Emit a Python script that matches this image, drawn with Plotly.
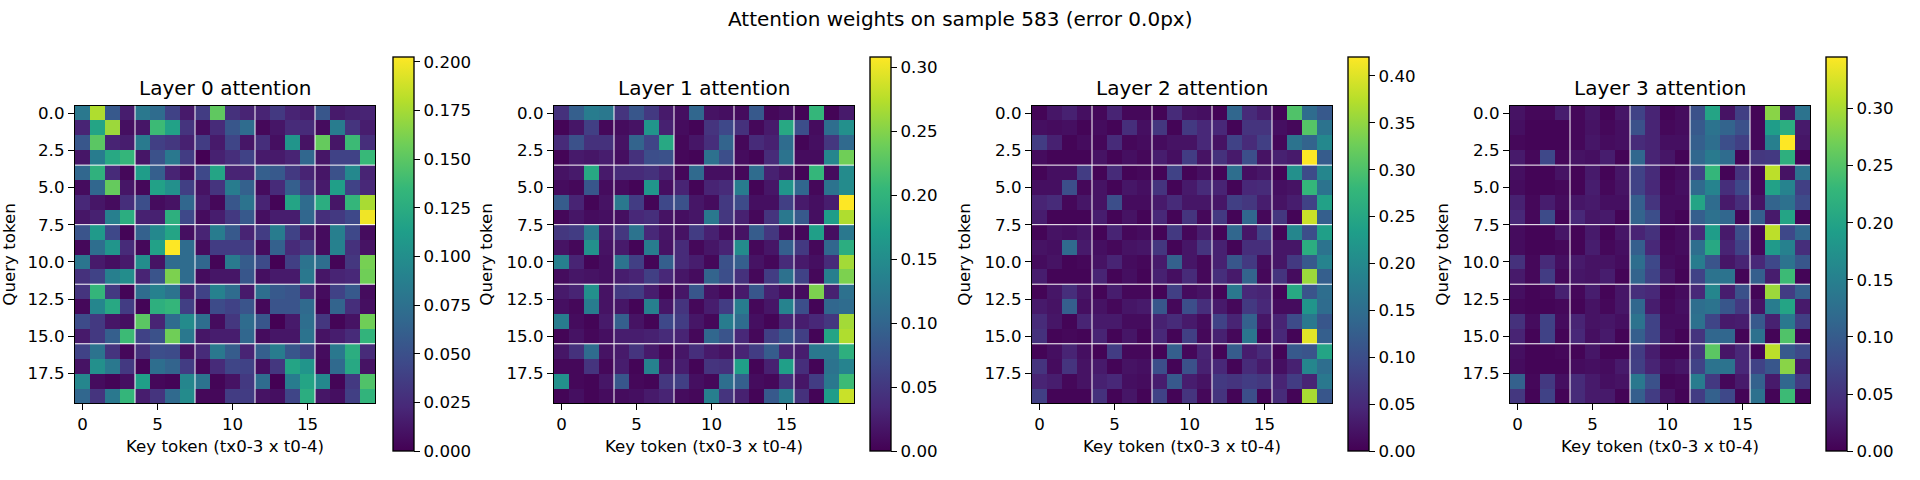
import plotly.graph_objects as go

W, H = 1920, 480

# Attention weights per layer, in hundredths of each layer's peak weight.
# Rows are query tokens, columns are key tokens.
LAYER_0 = [
    [40,88,28,8,40,35,20,7,18,75,14,10,10,17,10,8,27,7,9,10],
    [10,58,85,4,6,68,57,15,3,12,27,35,2,6,12,12,3,42,15,8],
    [27,74,10,8,41,19,16,9,18,7,21,6,13,4,52,5,76,6,68,13],
    [6,42,60,66,6,25,40,18,0,9,13,20,7,7,10,33,6,20,20,67],
    [33,64,12,2,55,30,10,4,22,58,10,10,30,28,17,10,6,25,47,10],
    [3,33,76,6,2,57,50,19,5,15,42,31,3,12,30,17,7,56,20,11],
    [11,6,3,13,24,3,5,33,8,2,27,38,10,1,58,35,62,6,66,87],
    [6,9,43,62,9,9,63,22,3,8,17,28,4,8,8,33,13,17,22,98],
    [26,54,22,1,31,47,58,4,10,42,28,10,18,42,20,7,3,43,22,3],
    [2,36,52,12,2,57,100,35,3,18,18,18,3,31,12,17,3,44,14,5],
    [39,7,4,7,49,5,35,35,33,1,41,29,23,0,19,38,36,1,16,79],
    [14,20,43,49,10,26,80,35,3,6,6,27,4,7,7,40,6,10,11,78],
    [15,66,17,1,35,44,38,8,20,44,35,7,36,28,26,12,3,20,28,3],
    [2,46,60,18,1,63,66,19,1,23,20,26,2,26,26,34,1,32,13,4],
    [23,17,6,4,74,10,35,48,36,3,16,35,27,0,7,36,16,1,5,78],
    [7,17,30,68,20,25,78,40,6,8,8,33,3,6,6,38,5,8,12,65],
    [20,38,15,2,14,24,23,5,12,40,29,10,30,42,27,19,3,40,62,12],
    [5,50,40,17,1,36,32,18,2,12,21,20,4,16,58,52,2,34,60,5],
    [46,3,1,4,56,2,1,46,38,1,5,17,35,0,42,58,47,1,17,72],
    [33,15,40,66,8,15,34,48,2,2,18,18,5,4,21,62,6,4,19,65],
]
LAYER_1 = [
    [14,30,42,40,15,27,17,7,4,33,5,4,3,28,2,4,1,66,1,7],
    [1,6,19,2,3,5,52,9,3,1,15,22,14,2,7,60,24,3,36,50],
    [12,25,14,14,5,32,21,60,2,6,13,32,2,12,9,35,1,4,16,34],
    [1,7,6,8,4,14,24,25,2,1,37,24,3,1,12,38,3,3,46,78],
    [5,7,60,7,12,12,14,9,2,34,4,4,2,35,9,5,1,66,3,48],
    [3,2,27,3,3,1,52,4,10,1,10,12,42,1,6,52,33,2,38,48],
    [29,10,1,5,40,18,1,22,25,6,3,17,23,4,4,19,7,4,8,100],
    [2,6,3,4,4,11,13,5,4,6,40,16,9,2,15,40,28,4,55,88],
    [16,18,40,7,16,38,11,6,5,18,9,3,5,29,16,3,2,56,4,40],
    [5,2,50,5,7,1,42,5,12,2,6,10,48,2,6,30,17,2,33,62],
    [43,10,1,4,38,19,1,30,12,8,2,25,30,5,2,12,7,4,12,86],
    [3,6,5,4,8,10,19,11,6,3,32,24,14,2,18,37,20,2,43,80],
    [7,10,50,5,17,18,8,1,6,27,5,2,7,27,9,4,3,80,9,37],
    [4,2,42,5,6,1,43,6,15,2,8,18,42,2,6,45,24,1,33,35],
    [42,3,1,7,30,5,1,22,18,6,2,42,35,4,1,10,8,11,16,86],
    [1,5,2,4,8,8,9,12,10,2,33,26,11,2,19,28,19,1,58,88],
    [6,14,35,5,7,15,7,2,6,13,7,5,10,18,29,10,8,40,40,63],
    [2,2,15,2,8,1,44,5,8,1,15,14,56,1,9,56,13,1,38,45],
    [50,2,1,6,27,2,1,16,19,4,2,36,30,3,2,13,6,18,40,68],
    [1,4,1,3,3,4,7,10,3,2,43,15,9,1,28,42,14,1,55,92],
]
LAYER_2 = [
    [1,6,9,4,2,10,2,2,1,12,5,4,1,33,12,8,1,72,35,28],
    [4,3,4,1,3,1,13,4,16,1,17,11,11,1,15,15,4,2,73,38],
    [18,9,1,3,2,12,2,3,3,5,5,11,5,20,12,19,2,38,32,47],
    [3,1,1,1,5,1,4,2,8,4,18,5,14,7,24,5,9,7,100,29],
    [1,4,4,18,1,12,1,2,1,20,1,4,1,36,4,6,1,50,23,46],
    [4,4,24,2,5,1,6,4,15,1,7,12,10,1,11,12,4,5,66,38],
    [10,12,2,6,5,24,3,3,7,12,6,6,6,19,16,8,5,8,20,57],
    [8,1,1,1,8,1,5,1,11,1,15,2,17,1,33,2,16,1,92,30],
    [1,5,4,6,1,10,2,3,1,17,2,8,1,33,6,20,1,46,24,56],
    [5,4,34,7,4,2,5,6,16,1,6,15,9,1,13,13,6,6,62,38],
    [3,5,1,2,5,10,3,2,7,31,6,2,9,27,17,3,6,17,28,45],
    [8,1,1,1,10,1,4,1,9,4,12,2,13,7,32,2,15,3,85,30],
    [1,6,13,6,1,8,2,2,1,19,3,5,1,40,11,10,1,60,26,36],
    [7,5,30,4,5,2,6,7,27,2,24,13,7,2,17,11,3,3,52,35],
    [12,6,1,10,7,7,3,3,9,12,7,3,20,10,31,6,10,23,40,27],
    [14,1,2,1,10,1,6,1,11,1,19,2,9,2,39,1,11,1,96,30],
    [1,4,10,4,1,18,2,2,1,30,2,10,1,29,8,12,1,28,26,58],
    [15,3,15,5,7,1,5,4,24,1,25,9,11,1,12,7,4,9,46,36],
    [10,8,2,5,9,11,4,3,8,28,8,5,17,15,18,16,10,18,10,40],
    [19,1,1,1,14,1,6,1,20,1,15,2,15,1,24,1,12,1,87,27],
]
LAYER_3 = [
    [5,2,2,8,2,6,1,6,20,10,1,3,25,58,5,19,1,82,6,38],
    [4,1,1,1,2,5,2,4,25,10,2,3,28,38,32,25,2,55,62,7],
    [2,1,1,1,2,6,3,4,12,10,4,4,30,36,24,19,2,43,100,6],
    [7,2,22,2,5,4,8,1,33,10,6,1,33,41,35,1,16,17,63,1],
    [4,1,1,5,1,7,1,6,20,12,1,3,20,66,1,15,1,90,5,37],
    [3,1,1,2,1,8,2,5,20,11,2,4,34,45,13,22,2,57,45,19],
    [9,2,8,3,6,7,4,4,30,15,3,3,58,35,7,13,5,32,37,23],
    [11,2,23,1,11,6,7,1,32,24,3,1,30,37,33,1,30,7,58,1],
    [3,1,1,6,1,7,1,6,10,14,1,3,11,55,7,24,1,90,22,33],
    [3,1,1,2,1,8,2,4,30,11,2,3,36,60,10,20,2,54,44,13],
    [14,2,12,4,7,5,5,3,36,22,3,2,42,26,6,10,11,22,38,27],
    [7,2,18,2,6,5,8,1,32,20,6,1,20,38,38,1,30,8,68,1],
    [4,1,2,9,2,8,1,6,13,11,1,3,11,46,8,25,1,85,18,30],
    [2,1,1,2,1,5,2,6,33,8,2,4,36,38,27,17,5,42,58,7],
    [14,3,20,3,10,5,6,4,38,20,3,3,37,21,7,8,28,9,40,19],
    [10,1,20,1,11,4,7,1,30,20,4,1,15,33,33,1,37,1,72,1],
    [4,1,1,2,1,6,1,1,18,8,1,1,15,74,6,11,1,90,28,22],
    [3,1,1,1,3,4,3,7,19,10,4,6,20,38,38,11,20,27,82,6],
    [31,2,17,4,12,7,4,5,40,25,1,2,42,17,2,7,31,7,33,17],
    [16,1,20,1,12,7,7,1,30,18,5,1,18,31,22,1,37,1,68,1],
]
LAYERS = [LAYER_0, LAYER_1, LAYER_2, LAYER_3]
PEAKS = [0.2025, 0.308, 0.42, 0.345]

CBAR_TICKS = [
    ["0.000", "0.025", "0.050", "0.075", "0.100", "0.125", "0.150", "0.175", "0.200"],
    ["0.00", "0.05", "0.10", "0.15", "0.20", "0.25", "0.30"],
    ["0.00", "0.05", "0.10", "0.15", "0.20", "0.25", "0.30", "0.35", "0.40"],
    ["0.00", "0.05", "0.10", "0.15", "0.20", "0.25", "0.30"],
]
X_TICKS = [0, 5, 10, 15]
Y_TICKS = ["0.0", "2.5", "5.0", "7.5", "10.0", "12.5", "15.0", "17.5"]
GROUP_EDGES = [3.5, 7.5, 11.5, 15.5]

TITLE = "Attention weights on sample 583 (error 0.0px)"
X_LABEL = "Key token (tx0-3 x t0-4)"
Y_LABEL = "Query token"

# Pixel layout of each panel: heatmap left edge and colorbar left edge.
PANEL_LEFT = [75, 554, 1032, 1510]
PANEL_SIZE = 300
PANEL_TOP, PANEL_BOTTOM = 104, 403
CBAR_LEFT = [393, 870, 1348, 1826]
CBAR_WIDTH = 21
CBAR_TOP, CBAR_BOTTOM = 55, 451

FONT = "DejaVu Sans"
LINE = 1.33

fig = go.Figure()
annotations = [
    dict(text=TITLE, x=959.5 / W, y=1 - 17 / H, xref="paper", yref="paper",
         xanchor="center", yanchor="middle", showarrow=False,
         font=dict(family=FONT, size=20, color="black"))
]
shapes = []

for i, (grid, peak) in enumerate(zip(LAYERS, PEAKS)):
    suffix = "" if i == 0 else str(i + 1)
    z = [[cell * peak / 100 for cell in row] for row in grid]
    fig.add_trace(go.Heatmap(
        z=z,
        xaxis=f"x{suffix}",
        yaxis=f"y{suffix}",
        colorscale="Viridis",
        zmin=0,
        zmax=peak,
        hoverongaps=False,
        colorbar=dict(
            x=CBAR_LEFT[i] / W,
            xanchor="left",
            xref="paper",
            y=1 - CBAR_BOTTOM / H,
            yanchor="bottom",
            yref="paper",
            len=(CBAR_BOTTOM - CBAR_TOP) / H,
            lenmode="fraction",
            thickness=CBAR_WIDTH,
            thicknessmode="pixels",
            xpad=0,
            ypad=0,
            outlinewidth=LINE,
            outlinecolor="black",
            tickmode="array",
            tickvals=[float(t) for t in CBAR_TICKS[i]],
            ticktext=CBAR_TICKS[i],
            ticks="outside",
            ticklen=6,
            tickwidth=LINE,
            tickcolor="black",
            tickfont=dict(family=FONT, size=16.67, color="black"),
        ),
    ))

    left = PANEL_LEFT[i]
    axis = dict(
        showgrid=False,
        zeroline=False,
        showline=True,
        mirror=True,
        linecolor="black",
        linewidth=LINE,
        ticks="outside",
        ticklen=6,
        tickwidth=LINE,
        tickcolor="black",
        tickfont=dict(family=FONT, size=16.67, color="black"),
    )
    fig.update_layout({
        f"xaxis{suffix}": dict(
            axis,
            domain=[left / W, (left + PANEL_SIZE) / W],
            range=[-0.5, 19.5],
            tickmode="array",
            tickvals=X_TICKS,
            ticktext=[str(t) for t in X_TICKS],
            anchor=f"y{suffix}",
            title=dict(text=X_LABEL, standoff=6,
                       font=dict(family=FONT, size=16.67, color="black")),
        ),
        f"yaxis{suffix}": dict(
            axis,
            domain=[1 - PANEL_BOTTOM / H, 1 - PANEL_TOP / H],
            range=[19.5, -0.5],
            tickmode="array",
            tickvals=[float(t) for t in Y_TICKS],
            ticktext=Y_TICKS,
            anchor=f"x{suffix}",
            title=dict(text=Y_LABEL, standoff=9,
                       font=dict(family=FONT, size=16.67, color="black")),
        ),
    })

    annotations.append(dict(
        text=f"Layer {i} attention",
        x=(left + PANEL_SIZE / 2) / W,
        y=1 - 86 / H,
        xref="paper",
        yref="paper",
        xanchor="center",
        yanchor="middle",
        showarrow=False,
        font=dict(family=FONT, size=20, color="black"),
    ))

    # White separators between the token groups.
    for edge in GROUP_EDGES:
        shapes.append(dict(type="line", xref=f"x{suffix}", yref=f"y{suffix}",
                           x0=edge, x1=edge, y0=-0.5, y1=19.5,
                           line=dict(color="white", width=1)))
        shapes.append(dict(type="line", xref=f"x{suffix}", yref=f"y{suffix}",
                           x0=-0.5, x1=19.5, y0=edge, y1=edge,
                           line=dict(color="white", width=1)))

fig.update_layout(
    width=W,
    height=H,
    margin=dict(l=0, r=0, t=0, b=0),
    paper_bgcolor="white",
    plot_bgcolor="white",
    font=dict(family=FONT, size=16.67, color="black"),
    annotations=annotations,
    shapes=shapes,
)

fig.write_html("out.html")
